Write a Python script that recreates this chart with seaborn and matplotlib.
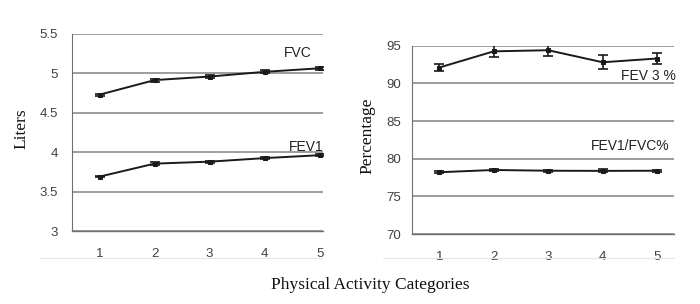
import matplotlib
matplotlib.use('Agg')
import matplotlib.pyplot as plt
import numpy as np
import pandas as pd
import seaborn as sns
from matplotlib.lines import Line2D

# Physical activity categories
categories = [1, 2, 3, 4, 5]

# Left panel (Liters)
fvc = [4.73, 4.915, 4.96, 5.02, 5.065]
fvc_err = [0.012, 0.018, 0.018, 0.018, 0.018]
fev1 = [3.69, 3.855, 3.88, 3.925, 3.962]
fev1_err = [0.01, 0.018, 0.014, 0.014, 0.016]

# Right panel (Percentage)
fev3_pct = [92.1, 94.25, 94.4, 92.8, 93.3]
fev3_err = [0.47, 0.8, 0.82, 0.95, 0.78]
ratio_pct = [78.2, 78.5, 78.4, 78.38, 78.4]
ratio_err = [0.1, 0.18, 0.12, 0.2, 0.12]

sns.set_style('white')
plt.rcParams['font.family'] = ['Liberation Sans', 'DejaVu Sans']

line_col = '#1a1a1a'
grid_col = '#8c8c8c'
tick_col = '#404040'

fig = plt.figure(figsize=(7, 3.04), dpi=100)
ax1 = fig.add_axes([72 / 700, 1 - 231 / 304, 251 / 700, 197 / 304])
ax2 = fig.add_axes([412 / 700, 1 - 234 / 304, 262 / 700, 188.3 / 304])


def draw_series(ax, y, err):
    df = pd.DataFrame({'cat': categories, 'val': y})
    sns.lineplot(data=df, x='cat', y='val', ax=ax, color=line_col, linewidth=1.4,
                 marker='s', markersize=3, markeredgecolor=line_col)
    ax.errorbar(categories, y, yerr=err, fmt='none', ecolor=line_col,
                elinewidth=1.2, capsize=3.5, capthick=1.2)


def style_axes(ax, ylim, yticks, xmax, ylabel, label_x, ypad):
    ax.set_xlim(0.5, xmax)
    ax.set_ylim(*ylim)
    ax.set_yticks(yticks)
    ax.set_yticklabels([('%g' % t) for t in yticks])
    ax.set_xticks(categories)
    ax.set_xticks([0.5, 1.5, 2.5, 3.5, 4.5], minor=True)
    ax.tick_params(axis='x', which='major', length=0, pad=12.5, labelsize=9.5,
                   labelcolor=tick_col)
    ax.tick_params(axis='x', which='minor', length=4.5, width=0.8,
                   color='#606060', direction='out')
    ax.tick_params(axis='y', length=3.5, width=0.8, color='#606060',
                   direction='out', pad=ypad, labelsize=9.5, labelcolor=tick_col)
    ax.grid(True, axis='y', color=grid_col, linewidth=1.2)
    ax.set_axisbelow(True)
    for s in ['top', 'right']:
        ax.spines[s].set_visible(False)
    ax.spines['left'].set_color('#707070')
    ax.spines['left'].set_linewidth(0.8)
    ax.spines['bottom'].set_color('#707070')
    ax.spines['bottom'].set_linewidth(1.0)
    ax.set_xlabel('')
    ax.set_ylabel(ylabel, family=['Liberation Serif', 'DejaVu Serif'],
                  fontsize=12.5, color='#111111')
    ax.yaxis.set_label_coords(label_x, 0.52)


draw_series(ax1, fvc, fvc_err)
draw_series(ax1, fev1, fev1_err)
style_axes(ax1, (3, 5.5), [3, 3.5, 4, 4.5, 5, 5.5], 5.06, 'Liters', -0.17, 6.5)
ax1.text(4.61, 5.26, 'FVC', ha='center', va='center', fontsize=10, color='#222222')
ax1.text(4.75, 4.07, 'FEV1', ha='center', va='center', fontsize=10, color='#222222')

draw_series(ax2, fev3_pct, fev3_err)
draw_series(ax2, ratio_pct, ratio_err)
style_axes(ax2, (70, 95), [70, 75, 80, 85, 90, 95], 5.31, 'Percentage', -0.14, 4.5)
ax2.text(4.84, 90.98, 'FEV 3 %', ha='center', va='center', fontsize=10, color='#222222')
ax2.text(4.50, 81.68, 'FEV1/FVC%', ha='center', va='center', fontsize=10, color='#222222')

# faint chart-area borders below the tick labels
fig.add_artist(Line2D([40 / 700, 323 / 700], [1 - 258 / 304] * 2, color='#e6e6e6', lw=0.8))
fig.add_artist(Line2D([383 / 700, 674 / 700], [1 - 258 / 304] * 2, color='#e6e6e6', lw=0.8))

fig.text(370 / 700, 1 - 285 / 304, 'Physical Activity Categories', ha='center', va='center',
         family=['Liberation Serif', 'DejaVu Serif'], fontsize=12.5, color='#111111')

fig.savefig('out.png', dpi=100)
